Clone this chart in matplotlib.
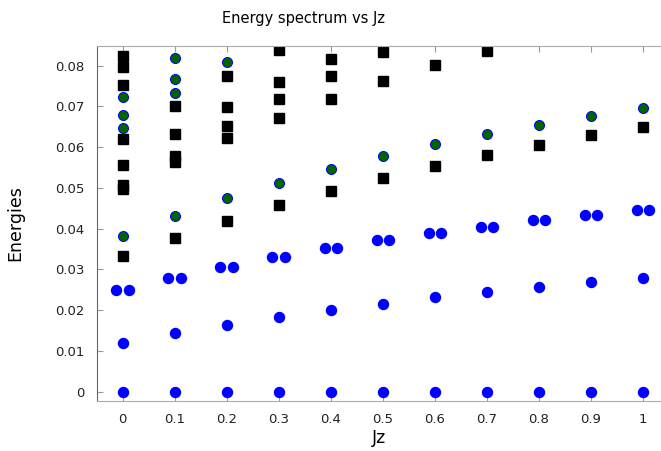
import matplotlib
matplotlib.use('Agg')
import matplotlib.pyplot as plt
import numpy as np

jz = [0.0, 0.1, 0.2, 0.3, 0.4, 0.5, 0.6, 0.7, 0.8, 0.9, 1.0]

# blue levels (one value per Jz)
ground = [0, 0, 0, 0, 0, 0, 0, 0, 0, 0, 0]
first = [0.0120, 0.0143, 0.0163, 0.0182, 0.0200, 0.0215, 0.0231, 0.0244, 0.0256, 0.0269, 0.0278]
doublet = [0.0250, 0.0279, 0.0306, 0.0330, 0.0353, 0.0372, 0.0389, 0.0405, 0.0420, 0.0433, 0.0445]

# green circles per Jz
green = [
    [0.0381, 0.0648, 0.0679, 0.0722],
    [0.0430, 0.0733, 0.0767, 0.0818],
    [0.0474, 0.0808],
    [0.0512],
    [0.0547],
    [0.0577],
    [0.0607],
    [0.0632],
    [0.0655],
    [0.0677],
    [0.0695],
]

# black squares per Jz
squares = [
    [0.0332, 0.0497, 0.0508, 0.0556, 0.0620, 0.0753, 0.0796, 0.0823],
    [0.0376, 0.0563, 0.0579, 0.0631, 0.0700],
    [0.0419, 0.0622, 0.0652, 0.0699, 0.0774],
    [0.0457, 0.0672, 0.0717, 0.0760, 0.0839],
    [0.0492, 0.0719, 0.0775, 0.0815],
    [0.0524, 0.0762, 0.0833],
    [0.0554, 0.0801],
    [0.0581, 0.0836],
    [0.0605],
    [0.0630],
    [0.0650],
]

xticks = [0, 0.1, 0.2, 0.3, 0.4, 0.5, 0.6, 0.7, 0.8, 0.9, 1.0]
xticklabels = ['0', '0.1', '0.2', '0.3', '0.4', '0.5', '0.6', '0.7', '0.8', '0.9', '1']
yticks = [0, 0.01, 0.02, 0.03, 0.04, 0.05, 0.06, 0.07, 0.08]
yticklabels = ['0', '0.01', '0.02', '0.03', '0.04', '0.05', '0.06', '0.07', '0.08']

fig = plt.figure(figsize=(6.61, 4.51), dpi=100)
ax = fig.add_axes([0.1463, 0.111, 0.8537, 0.787])

x = np.array(jz)
ms = 7.2
ax.plot(x, ground, 'o', color='blue', ms=ms, mec='blue', ls='none')
ax.plot(x, first, 'o', color='blue', ms=ms, mec='blue', ls='none')
ax.plot(x - 0.012, doublet, 'o', color='blue', ms=ms, mec='blue', ls='none')
ax.plot(x + 0.012, doublet, 'o', color='blue', ms=ms, mec='blue', ls='none')

for xi, vals in zip(jz, green):
    ax.plot([xi] * len(vals), vals, 'o', mfc='#006400', mec='blue', mew=0.7, ms=ms, ls='none')

for xi, vals in zip(jz, squares):
    ax.plot([xi] * len(vals), vals, 's', color='black', ms=7.0, ls='none')

ax.set_xlim(-0.05, 1.035)
ax.set_ylim(-0.0023, 0.0848)
ax.set_xticks(xticks)
ax.set_xticklabels(xticklabels)
ax.set_yticks(yticks)
ax.set_yticklabels(yticklabels)

ax.spines['right'].set_visible(False)
ax.spines['left'].set_color('#666666')
ax.spines['top'].set_color('#aaaaaa')
ax.spines['bottom'].set_color('#aaaaaa')
ax.tick_params(direction='in', top=True, right=False, length=4, color='#999999',
               labelsize=9.5, labelcolor='#222222')
ax.tick_params(axis='x', pad=9)
ax.tick_params(axis='y', pad=9)

ax.set_xlabel('Jz', fontsize=12.5, labelpad=2)
ax.set_ylabel('Energies', fontsize=12.5, labelpad=22)
fig.text(0.4595, 0.96, 'Energy spectrum vs Jz', ha='center', va='center', fontsize=10.5)

fig.savefig('out.png', dpi=100)
